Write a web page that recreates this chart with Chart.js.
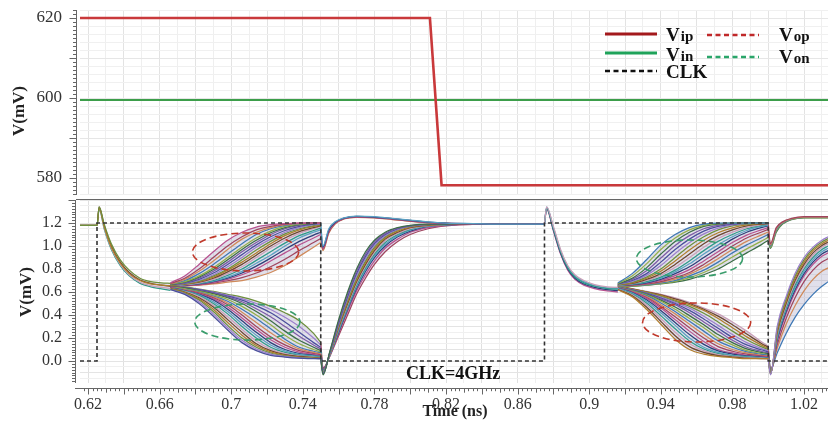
<!DOCTYPE html>
<html>
<head>
<meta charset="utf-8">
<script src="https://cdn.jsdelivr.net/npm/chart.js@4.4.1/dist/chart.umd.min.js"></script>
<style>
  html, body { margin: 0; padding: 0; background: #fff; }
  #wrap { position: relative; width: 828px; height: 424px; overflow: hidden; }
  #topBox { position: absolute; left: 0; top: 0; width: 828px; height: 200px; }
  #botBox { position: absolute; left: 0; top: 200px; width: 828px; height: 224px; }
</style>
</head>
<body>
<div id="wrap">
  <div id="topBox"><canvas id="topPlot"></canvas></div>
  <div id="botBox"><canvas id="botPlot"></canvas></div>
</div>
<script>
// ---------- top panel: inputs (mV) ----------
const vipTime = [0.6155, 0.811, 0.8175, 1.034];
const vipValues = [620, 620, 578.2, 578.2];
const vinTime = [0.6155, 1.034];
const vinValues = [599.5, 599.5];
const topYLabels = [580, 600, 620];

// ---------- bottom panel: clock + outputs (V) ----------
const clkTime = [0.6155, 0.625, 0.625, 0.75, 0.75, 0.875, 0.875, 1.0, 1.0, 1.034];
const clkValues = [0, 0, 1.2, 1.2, 0, 0, 1.2, 1.2, 0, 0];

const xTickValues = [0.62, 0.66, 0.7, 0.74, 0.78, 0.82, 0.86, 0.9, 0.94, 0.98, 1.02];
const xTickLabels = ['0.62', '0.66', '0.7', '0.74', '0.78', '0.82', '0.86', '0.9', '0.94', '0.98', '1.02'];
const botYLabels = [0.0, 0.2, 0.4, 0.6, 0.8, 1.0, 1.2];

// cycle 1: kick + common descent
const head1Time = [0.6155, 0.6250, 0.6262, 0.6290, 0.6330, 0.6380, 0.6430, 0.6490, 0.6550, 0.6610, 0.6660];
const head1Runs = [
  [1.18, 1.18, 1.34, 1.19, 1.02, 0.88, 0.79, 0.72, 0.69, 0.68, 0.675],
  [1.18, 1.18, 1.33, 1.17, 0.99, 0.85, 0.76, 0.70, 0.67, 0.66, 0.655],
  [1.18, 1.18, 1.34, 1.18, 1.00, 0.86, 0.77, 0.705, 0.675, 0.66, 0.65],
  [1.18, 1.18, 1.33, 1.16, 0.98, 0.84, 0.75, 0.685, 0.655, 0.64, 0.63],
  [1.18, 1.18, 1.32, 1.15, 0.97, 0.83, 0.74, 0.675, 0.645, 0.628, 0.615]
];
// cycle 1: regeneration (Vop up, Von down)
const split1Time = [0.666, 0.674, 0.682, 0.690, 0.698, 0.706, 0.714, 0.722, 0.730, 0.738, 0.746, 0.750];
const split1Up = [
  [0.68, 0.74, 0.84, 0.95, 1.05, 1.12, 1.165, 1.185, 1.195, 1.20, 1.20, 1.20],
  [0.675, 0.72, 0.80, 0.90, 1.00, 1.08, 1.14, 1.17, 1.19, 1.20, 1.20, 1.20],
  [0.67, 0.71, 0.78, 0.87, 0.97, 1.06, 1.12, 1.16, 1.185, 1.195, 1.20, 1.20],
  [0.67, 0.70, 0.76, 0.84, 0.93, 1.02, 1.10, 1.15, 1.18, 1.195, 1.20, 1.20],
  [0.67, 0.69, 0.74, 0.81, 0.90, 0.99, 1.07, 1.13, 1.17, 1.19, 1.20, 1.20],
  [0.665, 0.685, 0.73, 0.795, 0.88, 0.97, 1.05, 1.115, 1.16, 1.185, 1.195, 1.20],
  [0.665, 0.68, 0.72, 0.78, 0.86, 0.95, 1.03, 1.10, 1.15, 1.18, 1.195, 1.20],
  [0.665, 0.678, 0.71, 0.765, 0.84, 0.925, 1.01, 1.08, 1.135, 1.17, 1.19, 1.195],
  [0.665, 0.675, 0.70, 0.75, 0.82, 0.90, 0.99, 1.06, 1.12, 1.16, 1.185, 1.19],
  [0.66, 0.672, 0.695, 0.74, 0.80, 0.88, 0.965, 1.04, 1.105, 1.15, 1.178, 1.185],
  [0.66, 0.67, 0.69, 0.73, 0.79, 0.86, 0.94, 1.02, 1.09, 1.14, 1.17, 1.18],
  [0.66, 0.668, 0.685, 0.72, 0.775, 0.84, 0.92, 1.00, 1.07, 1.125, 1.16, 1.175],
  [0.66, 0.665, 0.68, 0.71, 0.76, 0.82, 0.90, 0.98, 1.05, 1.11, 1.15, 1.17],
  [0.66, 0.665, 0.678, 0.70, 0.745, 0.80, 0.875, 0.95, 1.025, 1.09, 1.135, 1.155],
  [0.66, 0.665, 0.675, 0.695, 0.73, 0.78, 0.85, 0.92, 1.00, 1.07, 1.12, 1.14],
  [0.655, 0.66, 0.67, 0.69, 0.72, 0.765, 0.825, 0.895, 0.97, 1.04, 1.095, 1.12],
  [0.655, 0.66, 0.665, 0.685, 0.71, 0.75, 0.80, 0.87, 0.94, 1.01, 1.07, 1.10],
  [0.655, 0.655, 0.662, 0.678, 0.698, 0.725, 0.765, 0.82, 0.885, 0.96, 1.03, 1.065],
  [0.655, 0.655, 0.66, 0.67, 0.685, 0.70, 0.73, 0.77, 0.83, 0.91, 0.99, 1.03]
];
const split1Down = [
  [0.62, 0.58, 0.50, 0.39, 0.27, 0.16, 0.09, 0.05, 0.035, 0.025, 0.02, 0.02],
  [0.622, 0.585, 0.515, 0.41, 0.29, 0.18, 0.105, 0.06, 0.04, 0.028, 0.022, 0.02],
  [0.625, 0.59, 0.53, 0.43, 0.31, 0.20, 0.12, 0.07, 0.045, 0.03, 0.025, 0.02],
  [0.628, 0.595, 0.54, 0.45, 0.335, 0.225, 0.135, 0.08, 0.05, 0.035, 0.028, 0.022],
  [0.63, 0.60, 0.55, 0.47, 0.36, 0.25, 0.15, 0.09, 0.055, 0.04, 0.03, 0.025],
  [0.63, 0.603, 0.56, 0.485, 0.385, 0.275, 0.175, 0.105, 0.065, 0.045, 0.035, 0.03],
  [0.63, 0.605, 0.57, 0.50, 0.41, 0.30, 0.20, 0.12, 0.075, 0.05, 0.04, 0.035],
  [0.632, 0.608, 0.575, 0.515, 0.43, 0.325, 0.225, 0.14, 0.088, 0.058, 0.045, 0.038],
  [0.635, 0.61, 0.58, 0.53, 0.45, 0.35, 0.25, 0.16, 0.10, 0.065, 0.05, 0.04],
  [0.638, 0.612, 0.585, 0.54, 0.47, 0.375, 0.275, 0.185, 0.12, 0.078, 0.058, 0.048],
  [0.64, 0.615, 0.59, 0.55, 0.49, 0.40, 0.30, 0.21, 0.14, 0.09, 0.065, 0.055],
  [0.64, 0.618, 0.595, 0.558, 0.505, 0.425, 0.335, 0.245, 0.165, 0.105, 0.075, 0.062],
  [0.64, 0.62, 0.60, 0.565, 0.52, 0.45, 0.37, 0.28, 0.19, 0.12, 0.085, 0.07],
  [0.645, 0.628, 0.605, 0.575, 0.535, 0.475, 0.40, 0.315, 0.225, 0.15, 0.10, 0.08],
  [0.65, 0.635, 0.61, 0.585, 0.55, 0.50, 0.43, 0.35, 0.26, 0.18, 0.12, 0.09],
  [0.652, 0.638, 0.615, 0.59, 0.558, 0.515, 0.455, 0.385, 0.30, 0.215, 0.14, 0.105],
  [0.655, 0.64, 0.62, 0.595, 0.565, 0.53, 0.48, 0.42, 0.34, 0.25, 0.16, 0.12],
  [0.658, 0.643, 0.622, 0.6, 0.572, 0.542, 0.50, 0.448, 0.38, 0.30, 0.20, 0.14],
  [0.66, 0.645, 0.625, 0.605, 0.58, 0.555, 0.52, 0.475, 0.42, 0.35, 0.24, 0.16]
];
// cycle 1: reset (clock low)
const reset1HighTime = [0.750, 0.7512, 0.7545, 0.758, 0.763, 0.770, 0.780, 0.790, 0.800, 0.810, 0.820, 0.835, 0.855, 0.875];
const reset1High = [
  [1.20, 1.00, 1.15, 1.21, 1.245, 1.26, 1.255, 1.24, 1.225, 1.21, 1.20, 1.195, 1.19, 1.19],
  [1.16, 0.99, 1.14, 1.205, 1.242, 1.257, 1.252, 1.238, 1.222, 1.207, 1.199, 1.194, 1.19, 1.19],
  [1.12, 0.98, 1.13, 1.20, 1.24, 1.255, 1.25, 1.235, 1.22, 1.205, 1.198, 1.193, 1.19, 1.19],
  [1.08, 0.97, 1.12, 1.195, 1.237, 1.252, 1.247, 1.232, 1.217, 1.204, 1.197, 1.192, 1.19, 1.19],
  [1.04, 0.96, 1.11, 1.19, 1.235, 1.25, 1.245, 1.23, 1.215, 1.203, 1.196, 1.192, 1.19, 1.19]
];
const reset1LowTime = [0.750, 0.7513, 0.755, 0.760, 0.765, 0.770, 0.775, 0.780, 0.786, 0.793, 0.800, 0.810, 0.820, 0.835, 0.855, 0.875];
const reset1Low = [
  [0.02, -0.12, 0.08, 0.36, 0.60, 0.80, 0.95, 1.05, 1.12, 1.16, 1.18, 1.19, 1.19, 1.19, 1.19, 1.19],
  [0.025, -0.115, 0.075, 0.345, 0.58, 0.78, 0.93, 1.035, 1.11, 1.155, 1.178, 1.189, 1.19, 1.19, 1.19, 1.19],
  [0.03, -0.11, 0.07, 0.33, 0.56, 0.76, 0.91, 1.02, 1.10, 1.15, 1.175, 1.188, 1.19, 1.19, 1.19, 1.19],
  [0.035, -0.105, 0.065, 0.32, 0.545, 0.74, 0.89, 1.005, 1.09, 1.145, 1.172, 1.187, 1.19, 1.19, 1.19, 1.19],
  [0.04, -0.10, 0.06, 0.31, 0.53, 0.72, 0.87, 0.99, 1.08, 1.14, 1.17, 1.185, 1.19, 1.19, 1.19, 1.19],
  [0.05, -0.10, 0.06, 0.30, 0.515, 0.705, 0.855, 0.975, 1.07, 1.13, 1.165, 1.183, 1.189, 1.19, 1.19, 1.19],
  [0.06, -0.10, 0.06, 0.29, 0.50, 0.69, 0.84, 0.96, 1.06, 1.12, 1.16, 1.18, 1.188, 1.19, 1.19, 1.19],
  [0.07, -0.095, 0.055, 0.28, 0.485, 0.675, 0.825, 0.945, 1.045, 1.11, 1.152, 1.178, 1.187, 1.19, 1.19, 1.19],
  [0.08, -0.09, 0.05, 0.27, 0.47, 0.66, 0.81, 0.93, 1.03, 1.10, 1.145, 1.175, 1.186, 1.19, 1.19, 1.19],
  [0.09, -0.085, 0.05, 0.26, 0.46, 0.645, 0.795, 0.915, 1.015, 1.09, 1.138, 1.172, 1.185, 1.19, 1.19, 1.19],
  [0.10, -0.08, 0.05, 0.25, 0.45, 0.63, 0.78, 0.90, 1.00, 1.08, 1.13, 1.17, 1.183, 1.19, 1.19, 1.19],
  [0.12, -0.07, 0.04, 0.24, 0.43, 0.61, 0.75, 0.87, 0.98, 1.06, 1.12, 1.16, 1.18, 1.189, 1.19, 1.19],
  [0.16, -0.06, 0.04, 0.22, 0.40, 0.58, 0.72, 0.84, 0.95, 1.04, 1.10, 1.15, 1.175, 1.188, 1.19, 1.19]
];
// cycle 2: kick + common descent
const head2Time = [0.8750, 0.8762, 0.8800, 0.8840, 0.8880, 0.8920, 0.8970, 0.9030, 0.9100, 0.9160];
const head2Runs = [
  [1.19, 1.34, 1.17, 0.97, 0.83, 0.75, 0.70, 0.665, 0.645, 0.64],
  [1.19, 1.33, 1.15, 0.95, 0.81, 0.73, 0.68, 0.65, 0.63, 0.625],
  [1.19, 1.34, 1.16, 0.96, 0.82, 0.74, 0.69, 0.655, 0.635, 0.63],
  [1.19, 1.33, 1.14, 0.94, 0.80, 0.72, 0.67, 0.64, 0.62, 0.612],
  [1.19, 1.32, 1.13, 0.93, 0.79, 0.71, 0.66, 0.63, 0.61, 0.60]
];
// cycle 2: regeneration (Von up, Vop down)
const split2Time = [0.916, 0.924, 0.932, 0.940, 0.948, 0.956, 0.964, 0.972, 0.980, 0.988, 0.996, 1.000];
const split2Up = [
  [0.68, 0.76, 0.88, 1.01, 1.10, 1.16, 1.19, 1.20, 1.20, 1.20, 1.20, 1.20],
  [0.675, 0.74, 0.845, 0.97, 1.07, 1.14, 1.18, 1.195, 1.20, 1.20, 1.20, 1.20],
  [0.67, 0.72, 0.81, 0.93, 1.04, 1.12, 1.17, 1.19, 1.20, 1.20, 1.20, 1.20],
  [0.67, 0.71, 0.785, 0.895, 1.005, 1.09, 1.15, 1.18, 1.195, 1.20, 1.20, 1.20],
  [0.67, 0.70, 0.76, 0.86, 0.97, 1.06, 1.13, 1.17, 1.19, 1.20, 1.20, 1.20],
  [0.668, 0.692, 0.745, 0.83, 0.935, 1.03, 1.105, 1.155, 1.183, 1.195, 1.20, 1.20],
  [0.665, 0.685, 0.73, 0.80, 0.90, 1.00, 1.08, 1.14, 1.175, 1.19, 1.20, 1.20],
  [0.665, 0.68, 0.72, 0.78, 0.87, 0.965, 1.05, 1.115, 1.158, 1.183, 1.195, 1.198],
  [0.665, 0.675, 0.71, 0.76, 0.84, 0.93, 1.02, 1.09, 1.14, 1.175, 1.19, 1.195],
  [0.662, 0.672, 0.70, 0.745, 0.815, 0.90, 0.99, 1.065, 1.12, 1.162, 1.185, 1.192],
  [0.66, 0.67, 0.69, 0.73, 0.79, 0.87, 0.96, 1.04, 1.10, 1.15, 1.18, 1.19],
  [0.66, 0.668, 0.685, 0.72, 0.775, 0.845, 0.93, 1.01, 1.08, 1.135, 1.17, 1.182],
  [0.66, 0.665, 0.68, 0.71, 0.76, 0.82, 0.90, 0.98, 1.06, 1.12, 1.16, 1.175],
  [0.658, 0.662, 0.675, 0.70, 0.742, 0.795, 0.87, 0.95, 1.03, 1.095, 1.14, 1.16],
  [0.655, 0.66, 0.67, 0.69, 0.725, 0.77, 0.84, 0.92, 1.00, 1.07, 1.12, 1.145],
  [0.655, 0.658, 0.668, 0.685, 0.712, 0.755, 0.815, 0.89, 0.97, 1.04, 1.095, 1.122],
  [0.655, 0.655, 0.665, 0.68, 0.70, 0.74, 0.79, 0.86, 0.94, 1.01, 1.07, 1.10],
  [0.652, 0.652, 0.662, 0.675, 0.692, 0.725, 0.77, 0.83, 0.905, 0.975, 1.04, 1.075],
  [0.65, 0.65, 0.66, 0.67, 0.685, 0.71, 0.75, 0.80, 0.87, 0.94, 1.01, 1.05]
];
const split2Down = [
  [0.62, 0.56, 0.45, 0.32, 0.19, 0.10, 0.06, 0.04, 0.03, 0.02, 0.02, 0.02],
  [0.622, 0.568, 0.47, 0.345, 0.22, 0.125, 0.075, 0.048, 0.035, 0.025, 0.022, 0.02],
  [0.625, 0.575, 0.49, 0.37, 0.25, 0.15, 0.09, 0.055, 0.04, 0.03, 0.025, 0.02],
  [0.628, 0.582, 0.505, 0.395, 0.28, 0.175, 0.105, 0.065, 0.045, 0.035, 0.028, 0.022],
  [0.63, 0.59, 0.52, 0.42, 0.31, 0.20, 0.12, 0.075, 0.05, 0.04, 0.03, 0.025],
  [0.632, 0.595, 0.532, 0.44, 0.335, 0.23, 0.145, 0.088, 0.06, 0.045, 0.035, 0.03],
  [0.635, 0.60, 0.545, 0.46, 0.36, 0.26, 0.17, 0.10, 0.07, 0.05, 0.04, 0.035],
  [0.635, 0.602, 0.552, 0.475, 0.385, 0.29, 0.20, 0.125, 0.085, 0.06, 0.045, 0.04],
  [0.635, 0.605, 0.56, 0.49, 0.41, 0.32, 0.23, 0.15, 0.10, 0.07, 0.05, 0.045],
  [0.638, 0.608, 0.568, 0.505, 0.43, 0.345, 0.26, 0.175, 0.12, 0.08, 0.058, 0.05],
  [0.64, 0.61, 0.575, 0.52, 0.45, 0.37, 0.29, 0.20, 0.14, 0.09, 0.065, 0.055],
  [0.64, 0.612, 0.58, 0.53, 0.47, 0.395, 0.315, 0.23, 0.16, 0.105, 0.075, 0.062],
  [0.64, 0.615, 0.585, 0.54, 0.49, 0.42, 0.34, 0.26, 0.18, 0.12, 0.085, 0.07],
  [0.642, 0.618, 0.588, 0.548, 0.50, 0.44, 0.365, 0.285, 0.205, 0.14, 0.098, 0.08],
  [0.645, 0.62, 0.59, 0.555, 0.51, 0.46, 0.39, 0.31, 0.23, 0.16, 0.11, 0.09],
  [0.648, 0.622, 0.595, 0.562, 0.52, 0.475, 0.415, 0.34, 0.26, 0.185, 0.125, 0.10],
  [0.65, 0.625, 0.60, 0.57, 0.53, 0.49, 0.44, 0.37, 0.29, 0.21, 0.14, 0.11],
  [0.652, 0.628, 0.602, 0.575, 0.54, 0.50, 0.45, 0.39, 0.315, 0.235, 0.155, 0.12],
  [0.655, 0.63, 0.605, 0.58, 0.55, 0.51, 0.46, 0.41, 0.34, 0.26, 0.17, 0.13]
];
// cycle 2: reset
const reset2HighTime = [1.000, 1.0012, 1.0045, 1.008, 1.013, 1.020, 1.0335];
const reset2High = [
  [1.20, 1.02, 1.16, 1.21, 1.24, 1.255, 1.255],
  [1.16, 1.01, 1.15, 1.205, 1.237, 1.252, 1.252],
  [1.12, 1.00, 1.14, 1.20, 1.235, 1.25, 1.25],
  [1.08, 0.99, 1.13, 1.195, 1.232, 1.247, 1.247],
  [1.05, 0.98, 1.12, 1.19, 1.23, 1.245, 1.245]
];
const reset2LowTime = [1.000, 1.0013, 1.005, 1.010, 1.015, 1.020, 1.025, 1.030, 1.0335];
const reset2Low = [
  [0.02, -0.12, 0.30, 0.56, 0.76, 0.90, 0.99, 1.05, 1.08],
  [0.025, -0.115, 0.28, 0.54, 0.74, 0.88, 0.975, 1.035, 1.065],
  [0.03, -0.11, 0.26, 0.52, 0.72, 0.86, 0.96, 1.02, 1.05],
  [0.035, -0.11, 0.245, 0.50, 0.70, 0.84, 0.94, 1.005, 1.035],
  [0.04, -0.11, 0.23, 0.48, 0.68, 0.82, 0.92, 0.99, 1.02],
  [0.045, -0.105, 0.215, 0.465, 0.66, 0.80, 0.90, 0.97, 1.00],
  [0.05, -0.10, 0.20, 0.45, 0.64, 0.78, 0.88, 0.95, 0.98],
  [0.06, -0.10, 0.185, 0.43, 0.62, 0.76, 0.86, 0.93, 0.96],
  [0.07, -0.10, 0.17, 0.41, 0.60, 0.74, 0.84, 0.91, 0.94],
  [0.09, -0.09, 0.14, 0.37, 0.55, 0.69, 0.79, 0.86, 0.89],
  [0.11, -0.08, 0.11, 0.32, 0.48, 0.61, 0.71, 0.78, 0.81],
  [0.13, -0.07, 0.07, 0.24, 0.38, 0.49, 0.58, 0.65, 0.69]
];

// dashed ellipses marking the spread (data units)
const ellipseX = [0.708, 0.709, 0.956, 0.960];
const ellipseY = [0.948, 0.339, 0.891, 0.335];
const ellipseRx = [0.0297, 0.0294, 0.0297, 0.0302];
const ellipseRy = [0.165, 0.157, 0.161, 0.170];
const ellipseColors = ['#c0392b', '#3a9d6c', '#3a9d6c', '#c0392b'];

const legendMain = ['V', 'V', 'CLK', 'V', 'V'];
const legendSub = ['ip', 'in', '', 'op', 'on'];
const legendColors = ['#a3191c', '#1fa35a', '#111', '#c0282a', '#2aa66a'];

const palette = ['#6d8f3c', '#7b5aa6', '#3e78b5', '#b8528f', '#2f9a8a', '#b07d2c', '#4a4f9c',
  '#93b04a', '#a0445e', '#5aa0c2', '#6e4630', '#9b7fcc', '#3c6e47', '#d08a5a', '#2d3f7a', '#c9a0b8'];

const serif = '"Liberation Serif", "Times New Roman", serif';
const near = (v, step) => Math.abs(v / step - Math.round(v / step)) < 1e-6;

function stepTicks(step) {
  return (scale) => {
    const out = [];
    for (let i = Math.ceil(scale.min / step - 1e-9); i * step <= scale.max + 1e-9; i++) {
      out.push({ value: Math.round(i * step * 1e6) / 1e6 });
    }
    scale.ticks = out;
  };
}

function pts(xs, ys) {
  return xs.map((x, i) => ({ x: x, y: ys[i] }));
}

// keep the plot area exactly where the boxes put it
function noPad(s) {
  s.paddingTop = 0;
  s.paddingBottom = 0;
  s.paddingLeft = 0;
  s.paddingRight = 0;
}

// axes drawn a few pixels off the plot area, with long and short tick marks
const offsetAxes = {
  id: 'offsetAxes',
  afterDraw(chart, args, o) {
    const { ctx, chartArea: a, scales: { x, y } } = chart;
    ctx.save();
    ctx.strokeStyle = '#666';
    ctx.lineWidth = 1;
    ctx.beginPath();
    const ax = a.left - o.gap + 0.5;
    ctx.moveTo(ax, a.top);
    ctx.lineTo(ax, a.bottom);
    for (let i = Math.ceil(y.min / o.yStep - 1e-9); i * o.yStep <= y.max + 1e-9; i++) {
      const v = i * o.yStep;
      const py = Math.round(y.getPixelForValue(v)) + 0.5;
      ctx.moveTo(ax, py);
      ctx.lineTo(ax - (near(v, o.yMajor) ? 7 : 3.5), py);
    }
    const ay = a.bottom + o.gap + 0.5;
    ctx.moveTo(a.left - o.gap, ay);
    ctx.lineTo(a.right, ay);
    for (let i = Math.ceil(x.min / o.xStep - 1e-9); i * o.xStep <= x.max + 1e-9; i++) {
      const v = i * o.xStep;
      const px = Math.round(x.getPixelForValue(v)) + 0.5;
      ctx.moveTo(px, ay);
      ctx.lineTo(px, ay + (near(v, 0.02) ? o.xLong : near(v, 0.01) ? o.xLong * 0.7 : o.xLong * 0.45));
    }
    ctx.stroke();
    ctx.restore();
  }
};

function vTitle(ctx, text, x, y) {
  ctx.save();
  ctx.translate(x, y);
  ctx.rotate(-Math.PI / 2);
  ctx.font = 'bold 17px ' + serif;
  ctx.fillStyle = '#222';
  ctx.textAlign = 'center';
  ctx.textBaseline = 'middle';
  ctx.fillText(text, 0, 0);
  ctx.restore();
}

const topDecor = {
  id: 'topDecor',
  afterDraw(chart) {
    const ctx = chart.ctx;
    vTitle(ctx, 'V(mV)', 20, 111);
    const lx = [605, 605, 605, 707, 707];
    const ly = [34, 53, 71, 35, 57];
    const tx = [666, 666, 666, 779, 779];
    const ty = [41, 61, 78, 41, 63];
    const dashed = [false, false, true, true, true];
    ctx.save();
    for (let i = 0; i < legendMain.length; i++) {
      ctx.beginPath();
      ctx.strokeStyle = legendColors[i];
      ctx.lineWidth = dashed[i] ? 2.5 : 3;
      ctx.setLineDash(dashed[i] ? [5, 3.5] : []);
      ctx.moveTo(lx[i], ly[i]);
      ctx.lineTo(lx[i] + 52, ly[i]);
      ctx.stroke();
      ctx.fillStyle = '#111';
      ctx.textBaseline = 'alphabetic';
      ctx.font = 'bold 19px ' + serif;
      ctx.fillText(legendMain[i], tx[i], ty[i]);
      if (legendSub[i]) {
        const w = ctx.measureText(legendMain[i]).width;
        ctx.font = 'bold 15px ' + serif;
        ctx.fillText(legendSub[i], tx[i] + w + 1, ty[i]);
      }
    }
    ctx.restore();
  }
};

const botDecor = {
  id: 'botDecor',
  afterDatasetsDraw(chart) {
    const { ctx, scales: { x, y } } = chart;
    ctx.save();
    ctx.lineWidth = 1.6;
    ctx.setLineDash([7, 4]);
    for (let i = 0; i < ellipseX.length; i++) {
      const cx = x.getPixelForValue(ellipseX[i]);
      const cy = y.getPixelForValue(ellipseY[i]);
      const rx = x.getPixelForValue(ellipseX[i] + ellipseRx[i]) - cx;
      const ry = cy - y.getPixelForValue(ellipseY[i] + ellipseRy[i]);
      ctx.beginPath();
      ctx.strokeStyle = ellipseColors[i];
      ctx.ellipse(cx, cy, rx, ry, 0, 0, Math.PI * 2);
      ctx.stroke();
    }
    ctx.setLineDash([]);
    ctx.fillStyle = '#111';
    ctx.font = 'bold 18px ' + serif;
    ctx.textAlign = 'center';
    ctx.textBaseline = 'middle';
    ctx.fillText('CLK=4GHz', x.getPixelForValue(0.824), y.getPixelForValue(-0.12));
    ctx.restore();
  },
  afterDraw(chart) {
    const ctx = chart.ctx;
    vTitle(ctx, 'V(mV)', 27, 92);
    ctx.save();
    ctx.fillStyle = '#222';
    ctx.font = 'bold 16px ' + serif;
    ctx.textAlign = 'center';
    ctx.textBaseline = 'middle';
    ctx.fillText('Time (ns)', 455, 212);
    ctx.restore();
  }
};

// ---------- top chart ----------
new Chart(document.getElementById('topPlot'), {
  type: 'line',
  data: {
    datasets: [
      { data: pts(vipTime, vipValues), borderColor: '#c9393b', borderWidth: 2.6, pointRadius: 0, tension: 0 },
      { data: pts(vinTime, vinValues), borderColor: '#3c9e4a', borderWidth: 1.8, pointRadius: 0, tension: 0 }
    ]
  },
  options: {
    responsive: true,
    maintainAspectRatio: false,
    animation: false,
    events: [],
    layout: { padding: { top: 10, left: 0, right: 0, bottom: 0 }, autoPadding: false },
    plugins: {
      legend: { display: false },
      tooltip: { enabled: false },
      offsetAxes: { gap: 4, yStep: 1, yMajor: 10, xStep: 0.0025, xLong: 2 }
    },
    scales: {
      x: {
        type: 'linear', min: 0.6155, max: 1.0334,
        afterBuildTicks: stepTicks(0.01),
        afterFit: (s) => { s.height = 5; noPad(s); },
        border: { display: false },
        grid: { drawTicks: false, color: (c) => (c.tick && near(c.tick.value, 0.02)) ? '#e3e3e3' : '#efefef' },
        ticks: { display: false, autoSkip: false }
      },
      y: {
        min: 575.75, max: 622,
        afterBuildTicks: stepTicks(2),
        afterFit: (s) => { s.width = 80; noPad(s); },
        border: { display: false },
        grid: { drawTicks: false, color: (c) => (c.tick && near(c.tick.value, 10)) ? '#e6e6e6' : '#f0f0f0' },
        ticks: {
          autoSkip: false, padding: 18, color: '#333',
          font: { family: serif, size: 17 },
          callback: (v) => topYLabels.includes(v) ? String(v) : ''
        }
      }
    }
  },
  plugins: [offsetAxes, topDecor]
});

// ---------- bottom chart ----------
const botSets = [];
botSets.push({
  data: pts(clkTime, clkValues), borderColor: '#333', borderWidth: 1.6,
  borderDash: [4, 3], pointRadius: 0, tension: 0
});
let colorShift = 0;
function addBundle(xs, runs, band) {
  const first = botSets.length;
  runs.forEach((ys, k) => {
    botSets.push({
      data: pts(xs, ys),
      borderColor: palette[(k * 5 + colorShift) % palette.length],
      borderWidth: 1.25, pointRadius: 0, cubicInterpolationMode: 'monotone', fill: false
    });
  });
  if (band) {
    botSets[first].fill = first + runs.length - 1;
    botSets[first].backgroundColor = 'rgba(120,112,165,0.22)';
  }
  colorShift += 3;
}
addBundle(head1Time, head1Runs, true);
addBundle(split1Time, split1Up, true);
addBundle(split1Time, split1Down, true);
addBundle(reset1HighTime, reset1High, false);
addBundle(reset1LowTime, reset1Low, true);
addBundle(head2Time, head2Runs, true);
addBundle(split2Time, split2Up, true);
addBundle(split2Time, split2Down, true);
addBundle(reset2HighTime, reset2High, false);
addBundle(reset2LowTime, reset2Low, true);

new Chart(document.getElementById('botPlot'), {
  type: 'line',
  data: { datasets: botSets },
  options: {
    responsive: true,
    maintainAspectRatio: false,
    animation: false,
    events: [],
    layout: { padding: { top: 0, left: 0, right: 0, bottom: 0 }, autoPadding: false },
    plugins: {
      legend: { display: false },
      tooltip: { enabled: false },
      filler: { drawTime: 'beforeDatasetsDraw' },
      offsetAxes: { gap: 5, yStep: 0.025, yMajor: 0.2, xStep: 0.0025, xLong: 6 }
    },
    scales: {
      x: {
        type: 'linear', min: 0.6155, max: 1.0334,
        afterBuildTicks: stepTicks(0.01),
        afterFit: (s) => { s.height = 41; noPad(s); },
        border: { display: false },
        grid: { drawTicks: false, color: (c) => (c.tick && near(c.tick.value, 0.02)) ? '#e0e0e0' : '#efefef' },
        ticks: {
          autoSkip: false, maxRotation: 0, padding: 12, color: '#333',
          font: { family: serif, size: 16 },
          callback: (v) => {
            const i = xTickValues.findIndex((t) => Math.abs(t - v) < 1e-6);
            return i < 0 ? '' : xTickLabels[i];
          }
        }
      },
      y: {
        min: -0.191, max: 1.4,
        afterBuildTicks: stepTicks(0.05),
        afterFit: (s) => { s.width = 80; noPad(s); },
        border: { display: false },
        grid: { drawTicks: false, color: (c) => (c.tick && near(c.tick.value, 0.1)) ? '#e4e4e4' : '#f0f0f0' },
        ticks: {
          autoSkip: false, padding: 18, color: '#333',
          font: { family: serif, size: 16 },
          callback: (v) => botYLabels.some((t) => Math.abs(t - v) < 1e-6) ? v.toFixed(1) : ''
        }
      }
    }
  },
  plugins: [offsetAxes, botDecor]
});
</script>
</body>
</html>
